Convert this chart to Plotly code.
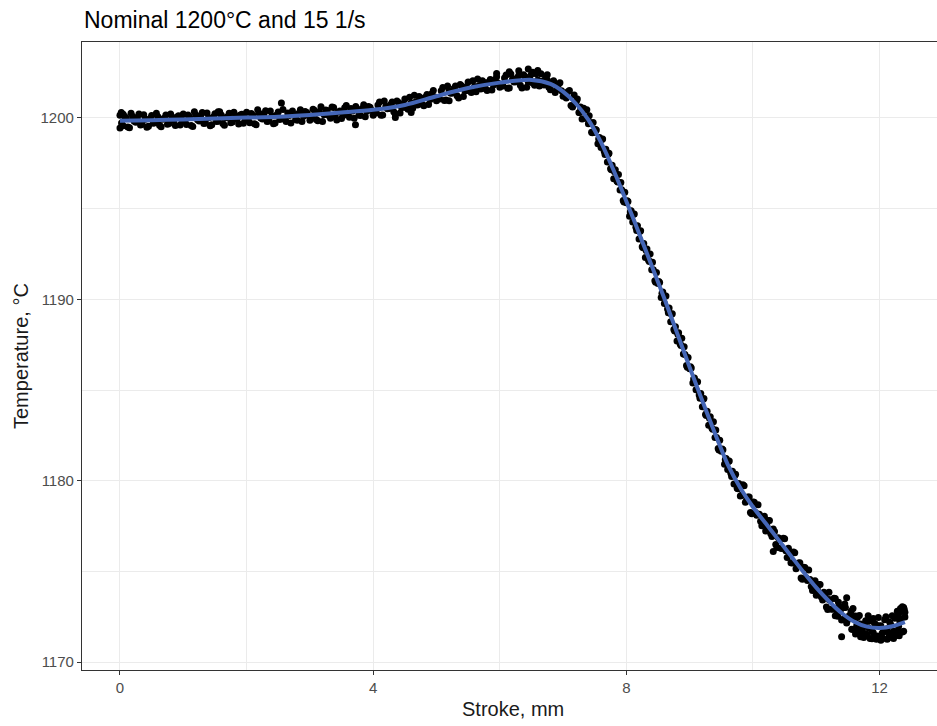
import plotly.graph_objects as go

# ---- data ----
# first sweep of readings
stroke_run1 = [
    0.00, 0.05, 0.10, 0.15, 0.20, 0.25, 0.30, 0.35, 0.40, 0.45, 0.50, 0.55, 0.60, 0.65, 0.70, 0.75, 0.80, 0.85, 0.90, 0.95,
    1.00, 1.05, 1.10, 1.15, 1.20, 1.25, 1.30, 1.35, 1.40, 1.45, 1.50, 1.55, 1.60, 1.65, 1.70, 1.75, 1.80, 1.85, 1.90, 1.95,
    2.00, 2.05, 2.10, 2.15, 2.20, 2.25, 2.30, 2.35, 2.40, 2.45, 2.50, 2.55, 2.60, 2.65, 2.70, 2.75, 2.80, 2.85, 2.90, 2.95,
    3.00, 3.05, 3.10, 3.15, 3.20, 3.25, 3.30, 3.35, 3.40, 3.45, 3.50, 3.55, 3.60, 3.65, 3.70, 3.75, 3.80, 3.85, 3.90, 3.95,
    4.00, 4.05, 4.10, 4.15, 4.20, 4.25, 4.30, 4.35, 4.40, 4.45, 4.50, 4.55, 4.60, 4.65, 4.70, 4.75, 4.80, 4.85, 4.90, 4.95,
    5.00, 5.05, 5.10, 5.15, 5.20, 5.25, 5.30, 5.35, 5.40, 5.45, 5.50, 5.55, 5.60, 5.65, 5.70, 5.75, 5.80, 5.85, 5.90, 5.95,
    6.00, 6.05, 6.10, 6.15, 6.20, 6.25, 6.30, 6.35, 6.40, 6.45, 6.50, 6.55, 6.60, 6.65, 6.70, 6.75, 6.80, 6.85, 6.90, 6.95,
    7.00, 7.05, 7.10, 7.15, 7.20,
    7.225, 7.250, 7.275, 7.300, 7.325, 7.350, 7.375, 7.400, 7.425, 7.450, 7.475, 7.500, 7.525, 7.550, 7.575, 7.600,
    7.625, 7.650, 7.675, 7.700, 7.725, 7.750, 7.775, 7.800, 7.825, 7.850, 7.875, 7.900, 7.925, 7.950, 7.975, 8.000,
    8.025, 8.050, 8.075, 8.100, 8.125, 8.150, 8.175, 8.200, 8.225, 8.250, 8.275, 8.300, 8.325, 8.350, 8.375, 8.400,
    8.425, 8.450, 8.475, 8.500, 8.525, 8.550, 8.575, 8.600, 8.625, 8.650, 8.675, 8.700, 8.725, 8.750, 8.775, 8.800,
    8.825, 8.850, 8.875, 8.900, 8.925, 8.950, 8.975, 9.000, 9.025, 9.050, 9.075, 9.100, 9.125, 9.150, 9.175, 9.200,
    9.225, 9.250, 9.275, 9.300, 9.325, 9.350, 9.375, 9.400, 9.425, 9.450, 9.475, 9.500, 9.525, 9.550, 9.575, 9.600,
    9.625, 9.650, 9.675, 9.700, 9.725, 9.750, 9.775, 9.800,
    9.84, 9.88, 9.92, 9.96, 10.00, 10.04, 10.08, 10.12, 10.16, 10.20, 10.24, 10.28, 10.32, 10.36, 10.40, 10.44, 10.48,
    10.52, 10.56, 10.60, 10.64, 10.68, 10.72, 10.76, 10.80, 10.84, 10.88, 10.92, 10.96, 11.00, 11.04, 11.08, 11.12,
    11.16, 11.20, 11.24, 11.28, 11.32, 11.36, 11.40, 11.44, 11.48, 11.52, 11.56, 11.60, 11.64, 11.68, 11.72, 11.76,
    11.80, 11.84, 11.88, 11.92, 11.96, 12.00, 12.04, 12.08, 12.12, 12.16, 12.20, 12.24, 12.28, 12.32, 12.36, 12.40,
]
temp_run1 = [
    1200.15, 1199.57, 1199.98, 1199.46, 1200.08, 1199.77, 1200.22, 1199.65, 1199.93, 1199.55,
    1200.14, 1199.74, 1200.07, 1199.51, 1199.98, 1199.65, 1200.22, 1199.86, 1200.06, 1199.61,
    1200.22, 1199.64, 1200.05, 1199.53, 1200.16, 1199.84, 1200.30, 1199.73, 1200.01, 1199.63,
    1200.23, 1199.82, 1200.16, 1199.60, 1200.07, 1199.74, 1200.32, 1199.95, 1200.16, 1199.71,
    1200.32, 1199.74, 1200.15, 1199.63, 1200.26, 1199.94, 1200.40, 1199.83, 1200.11, 1199.73,
    1200.33, 1200.83, 1199.93, 1200.27, 1199.72, 1200.19, 1199.87, 1200.45, 1200.09, 1200.30,
    1199.87, 1200.48, 1199.91, 1200.32, 1199.81, 1200.44, 1200.14, 1200.60, 1200.05, 1200.33,
    1199.97, 1200.57, 1200.18, 1200.52, 1199.98, 1200.45, 1200.14, 1200.73, 1200.37, 1200.59,
    1200.15, 1200.27, 1200.88, 1200.17, 1200.65, 1200.52, 1200.88, 1200.20, 1200.85, 1200.56,
    1201.05, 1200.48, 1200.82, 1201.25, 1200.72, 1201.10, 1200.68, 1201.30, 1201.02, 1201.51,
    1200.95, 1201.05, 1201.68, 1200.99, 1201.49, 1201.38, 1201.76, 1201.10, 1201.77, 1201.49,
    1201.98, 1201.40, 1201.74, 1202.15, 1201.60, 1201.96, 1201.52, 1202.12, 1201.82, 1202.28,
    1201.70, 1201.77, 1202.37, 1201.66, 1202.13, 1202.00, 1202.34, 1201.66, 1202.29, 1201.98,
    1202.43, 1201.81, 1202.09, 1202.44, 1201.82, 1202.10, 1201.56, 1202.05, 1201.62, 1201.94,
    1201.20, 1201.10, 1201.52, 1200.61, 1200.88,
    1201.05, 1200.30, 1200.60, 1199.95, 1200.53, 1200.00, 1200.45, 1199.68, 1199.75, 1199.22, 1199.75, 1199.22,
    1199.34, 1198.58, 1198.93, 1198.37, 1198.84, 1198.16, 1198.27, 1197.57, 1198.05, 1197.20, 1197.40, 1196.65,
    1197.14, 1196.53, 1196.88, 1196.03, 1196.04, 1195.45, 1195.91, 1195.32, 1195.39, 1194.58, 1194.88, 1194.27,
    1194.71, 1193.98, 1194.06, 1193.32, 1193.78, 1192.90, 1193.08, 1192.30, 1192.78, 1192.15, 1192.50, 1191.63,
    1191.63, 1191.02, 1191.48, 1190.87, 1190.93, 1190.10, 1190.40, 1189.77, 1190.19, 1189.46, 1189.52, 1188.77,
    1189.21, 1188.33, 1188.49, 1187.70, 1188.16, 1187.53, 1187.86, 1186.98, 1186.96, 1186.35, 1186.79, 1186.17,
    1186.21, 1185.38, 1185.66, 1185.02, 1185.46, 1184.73, 1184.81, 1184.07, 1184.53, 1183.65, 1183.83, 1183.05,
    1183.53, 1182.90, 1183.25, 1182.38, 1182.38, 1181.77, 1182.23, 1181.62, 1181.70, 1180.90, 1181.22, 1180.62,
    1181.09, 1180.41, 1180.52, 1179.82, 1180.36, 1179.58, 1179.84, 1179.15,
    1179.78, 1178.81, 1179.10, 1178.25, 1178.83, 1178.25, 1178.67, 1177.76, 1177.88, 1177.23, 1177.80, 1177.09,
    1177.33, 1176.48, 1176.85, 1176.27, 1176.83, 1176.13, 1176.28, 1175.47, 1176.07, 1175.14, 1175.46, 1174.63,
    1175.23, 1174.65, 1175.07, 1174.17, 1174.31, 1173.68, 1174.27, 1173.58, 1173.85, 1173.04, 1173.45, 1172.91,
    1173.51, 1172.86, 1173.07, 1172.32, 1173.00, 1172.15, 1172.55, 1171.81, 1172.50, 1172.03, 1172.56, 1171.78,
    1172.04, 1171.53, 1172.26, 1171.71, 1172.12, 1171.44, 1171.98, 1171.59, 1172.33, 1171.83, 1172.19, 1171.59,
    1172.41, 1171.70, 1172.25, 1171.65, 1172.48,
]

# second sweep of readings (between the first ones)
stroke_run2 = [
    0.025, 0.075, 0.125, 0.175, 0.225, 0.275, 0.325, 0.375, 0.425, 0.475, 0.525, 0.575, 0.625, 0.675, 0.725, 0.775,
    0.825, 0.875, 0.925, 0.975, 1.025, 1.075, 1.125, 1.175, 1.225, 1.275, 1.325, 1.375, 1.425, 1.475, 1.525, 1.575,
    1.625, 1.675, 1.725, 1.775, 1.825, 1.875, 1.925, 1.975, 2.025, 2.075, 2.125, 2.175, 2.225, 2.275, 2.325, 2.375,
    2.425, 2.475, 2.525, 2.575, 2.625, 2.675, 2.725, 2.775, 2.825, 2.875, 2.925, 2.975, 3.025, 3.075, 3.125, 3.175,
    3.225, 3.275, 3.325, 3.375, 3.425, 3.475, 3.525, 3.575, 3.625, 3.675, 3.725, 3.775, 3.825, 3.875, 3.925, 3.975,
    4.025, 4.075, 4.125, 4.175, 4.225, 4.275, 4.325, 4.375, 4.425, 4.475, 4.525, 4.575, 4.625, 4.675, 4.725, 4.775,
    4.825, 4.875, 4.925, 4.975, 5.025, 5.075, 5.125, 5.175, 5.225, 5.275, 5.325, 5.375, 5.425, 5.475, 5.525, 5.575,
    5.625, 5.675, 5.725, 5.775, 5.825, 5.875, 5.925, 5.975, 6.025, 6.075, 6.125, 6.175, 6.225, 6.275, 6.325, 6.375,
    6.425, 6.475, 6.525, 6.575, 6.625, 6.675, 6.725, 6.775, 6.825, 6.875, 6.925, 6.975, 7.025, 7.075, 7.125, 7.175,
    7.2125, 7.2625, 7.3125, 7.3625, 7.4125, 7.4625, 7.5125, 7.5625, 7.6125, 7.6625, 7.7125, 7.7625, 7.8125,
    7.8625, 7.9125, 7.9625, 8.0125, 8.0625, 8.1125, 8.1625, 8.2125, 8.2625, 8.3125, 8.3625, 8.4125, 8.4625,
    8.5125, 8.5625, 8.6125, 8.6625, 8.7125, 8.7625, 8.8125, 8.8625, 8.9125, 8.9625, 9.0125, 9.0625, 9.1125,
    9.1625, 9.2125, 9.2625, 9.3125, 9.3625, 9.4125, 9.4625, 9.5125, 9.5625, 9.6125, 9.6625, 9.7125, 9.7625,
    9.82, 9.86, 9.90, 9.94, 9.98, 10.02, 10.06, 10.10, 10.14, 10.18, 10.22, 10.26, 10.30, 10.34, 10.38, 10.42,
    10.46, 10.50, 10.54, 10.58, 10.62, 10.66, 10.70, 10.74, 10.78, 10.82, 10.86, 10.90, 10.94, 10.98, 11.02, 11.06,
    11.10, 11.14, 11.18, 11.22, 11.26, 11.30, 11.34, 11.38, 11.42, 11.46, 11.50, 11.54, 11.58, 11.62, 11.66, 11.70,
    11.74, 11.78, 11.82, 11.86, 11.90, 11.94, 11.98, 12.02, 12.06, 12.10, 12.14, 12.18, 12.22, 12.26, 12.30, 12.34,
    12.38,
]
temp_run2 = [
    1199.73, 1200.08, 1199.50, 1200.26, 1199.82, 1200.03, 1199.61, 1200.18, 1199.49, 1199.97, 1199.71, 1200.26,
    1199.60, 1199.93, 1200.17, 1199.70, 1200.04, 1199.58, 1200.13, 1199.91, 1199.82, 1200.16, 1199.59, 1200.35,
    1199.90, 1200.12, 1199.69, 1200.27, 1199.57, 1200.06, 1199.80, 1200.34, 1199.69, 1200.01, 1200.26, 1199.78,
    1200.13, 1199.67, 1200.21, 1200.00, 1199.90, 1200.25, 1199.68, 1200.45, 1200.00, 1200.22, 1199.80, 1200.38,
    1199.68, 1200.17, 1199.92, 1200.47, 1199.81, 1200.14, 1200.39, 1199.92, 1200.26, 1199.81, 1200.36, 1200.15,
    1200.06, 1200.41, 1199.85, 1200.62, 1200.18, 1200.41, 1199.99, 1200.58, 1199.89, 1200.38, 1200.14, 1200.69,
    1200.04, 1200.38, 1200.63, 1200.17, 1200.52, 1200.07, 1200.63, 1200.42,
    1200.34, 1200.71, 1200.15, 1200.94, 1200.51, 1200.75, 1200.34, 1200.94, 1200.27, 1200.78, 1200.56, 1201.14,
    1200.53, 1200.90, 1201.19, 1200.76, 1201.15, 1200.74, 1201.33, 1201.16, 1201.11, 1201.50, 1200.96, 1201.77,
    1201.36, 1201.62, 1201.23, 1201.85, 1201.19, 1201.71, 1201.49, 1202.06, 1201.44, 1201.79, 1202.06, 1201.61,
    1201.98, 1201.55, 1202.11, 1201.92, 1201.84, 1202.20, 1201.64, 1202.42, 1201.99, 1202.22, 1201.80, 1202.39,
    1201.70, 1202.18, 1201.92, 1202.44, 1201.76, 1202.04, 1202.24, 1201.70, 1201.96, 1201.41, 1201.84, 1201.50,
    1201.26, 1201.44, 1200.69, 1201.27,
    1200.95, 1200.30, 1200.39, 1199.99, 1200.13, 1199.18, 1199.37, 1198.84, 1198.81, 1197.98, 1198.00, 1197.15,
    1197.04, 1196.47, 1196.44, 1195.37, 1195.44, 1194.82, 1194.69, 1193.79, 1193.74, 1192.84, 1192.69, 1192.09,
    1192.04, 1190.94, 1190.99, 1190.34, 1190.18, 1189.26, 1189.18, 1188.26, 1188.08, 1187.46, 1187.38, 1186.26,
    1186.28, 1185.61, 1185.44, 1184.54, 1184.49, 1183.59, 1183.44, 1182.84, 1182.79, 1181.69, 1181.75, 1181.15,
    1181.06, 1180.23, 1180.28, 1179.56,
    1179.19, 1179.72, 1178.95, 1179.10, 1178.17, 1178.81, 1178.10, 1178.15, 1177.52, 1178.04, 1177.51, 1177.80,
    1176.92, 1177.20, 1176.32, 1176.78, 1176.26, 1176.80, 1175.77, 1176.02, 1175.46, 1176.03, 1175.30, 1175.47,
    1174.56, 1175.21, 1174.50, 1174.55, 1173.94, 1174.48, 1173.97, 1174.28, 1173.42, 1173.74, 1172.90, 1173.40,
    1172.92, 1173.50, 1172.53, 1172.84, 1172.35, 1173.00, 1172.35, 1172.61, 1171.79, 1172.54, 1171.94, 1172.10,
    1171.61, 1172.27, 1171.89, 1172.34, 1171.62, 1172.07, 1171.36, 1172.00, 1171.67, 1172.40, 1171.58, 1172.04,
    1171.69, 1172.48, 1171.97, 1172.37, 1171.69,
]

# isolated readings (outliers, peak and trough clusters)
stroke_extra = [
    0.00, 0.02, 0.05, 1.55, 3.72, 4.35, 4.60, 5.20,
    5.95, 6.15, 6.30, 6.45, 6.52, 6.60, 6.75,
    10.32, 11.20, 11.30, 11.35, 11.40, 11.45, 11.48, 11.55, 11.58, 11.62, 11.65, 11.68, 11.70, 11.75, 11.82,
    11.85, 11.88, 11.90, 11.95, 11.98, 12.02, 12.05, 12.10, 12.12, 12.15, 12.20, 12.22, 12.25, 12.28, 12.30,
    12.31, 12.33, 12.35, 12.36, 12.38, 12.39, 12.40,
]
temp_extra = [
    1199.45, 1200.30, 1200.20, 1200.35, 1199.62, 1200.02, 1200.30, 1200.95,
    1202.45, 1202.55, 1202.60, 1202.70, 1202.52, 1202.62, 1202.38,
    1176.10, 1173.85, 1172.55, 1173.30, 1171.40, 1173.20, 1173.55, 1172.80, 1172.95, 1171.55, 1172.45, 1171.70,
    1171.40, 1171.35, 1172.55, 1171.30, 1171.28, 1172.40, 1171.25, 1172.45, 1171.20, 1171.30, 1172.50, 1171.25,
    1171.35, 1172.55, 1171.30, 1171.45, 1172.80, 1172.65, 1171.45, 1172.95, 1172.85, 1173.05, 1173.00, 1172.90,
    1172.75,
]

# loess-type smooth line
smooth_x = [0.0, 0.5, 1.0, 1.5, 2.0, 2.5, 3.0, 3.5, 4.0, 4.5, 5.0, 5.5, 6.0, 6.5, 6.8, 7.0, 7.2, 7.4, 7.6, 7.8,
            8.0, 8.2, 8.4, 8.6, 8.8, 9.0, 9.2, 9.4, 9.6, 9.8, 10.0, 10.2, 10.4, 10.6, 10.8, 11.0, 11.2, 11.4,
            11.6, 11.8, 12.0, 12.2, 12.4]
smooth_y = [1199.85, 1199.88, 1199.92, 1199.97, 1200.02, 1200.07, 1200.17, 1200.30, 1200.45, 1200.72, 1201.20,
            1201.65, 1201.95, 1202.10, 1201.88, 1201.45, 1200.80, 1199.90, 1198.65, 1197.10, 1195.40, 1193.65,
            1191.85, 1190.05, 1188.15, 1186.25, 1184.40, 1182.60, 1180.90, 1179.60, 1178.55, 1177.65, 1176.75,
            1175.85, 1174.95, 1174.10, 1173.35, 1172.70, 1172.22, 1171.95, 1171.88, 1171.97, 1172.20]

x_ticks = [0, 4, 8, 12]
y_ticks = [1170, 1180, 1190, 1200]

title_text = "Nominal 1200°C and 15 1/s"
x_title = "Stroke, mm"
y_title = "Temperature, °C"

# ---- figure ----
W, H = 937, 726
L, R, T, B = 82, 0, 42, 56
plot_w = W - L - R
plot_h = H - T - B

stroke_all = stroke_run1 + stroke_run2 + stroke_extra
temp_all = temp_run1 + temp_run2 + temp_extra

fig = go.Figure()
fig.add_trace(go.Scatter(
    x=stroke_all, y=temp_all, mode="markers",
    marker=dict(color="black", size=7, line=dict(width=0)),
    hoverinfo="skip", showlegend=False,
))
fig.add_trace(go.Scatter(
    x=smooth_x, y=smooth_y, mode="lines",
    line=dict(color="#4466B6", width=4, shape="spline", smoothing=0.8),
    hoverinfo="skip", showlegend=False,
))

font_family = "Liberation Sans, Arial, sans-serif"
tick_font = dict(family=font_family, size=15, color="#4D4D4D")
grid_col = "#EBEBEB"

fig.update_layout(
    width=W, height=H,
    margin=dict(l=L, r=R, t=T, b=B, pad=0),
    paper_bgcolor="white", plot_bgcolor="white",
    showlegend=False,
    xaxis=dict(
        range=[-0.600, 12.907], tickmode="array", tickvals=x_ticks, ticktext=[str(v) for v in x_ticks],
        showgrid=True, gridcolor=grid_col, gridwidth=1.2,
        minor=dict(dtick=2, tick0=0, showgrid=True, gridcolor=grid_col, gridwidth=0.7, ticks=""),
        showline=True, linecolor="#333333", linewidth=1.2, mirror=True,
        ticks="outside", ticklen=4, tickcolor="#333333", tickwidth=1.2,
        tickfont=tick_font, zeroline=False,
    ),
    yaxis=dict(
        range=[1169.56, 1204.19], tickmode="array", tickvals=y_ticks, ticktext=[str(v) for v in y_ticks],
        showgrid=True, gridcolor=grid_col, gridwidth=1.2,
        minor=dict(dtick=5, tick0=1170, showgrid=True, gridcolor=grid_col, gridwidth=0.7, ticks=""),
        showline=True, linecolor="#333333", linewidth=1.2, mirror=False,
        ticks="outside", ticklen=4, tickcolor="#333333", tickwidth=1.2,
        tickfont=tick_font, zeroline=False,
    ),
    annotations=[
        dict(text=title_text, xref="paper", yref="paper", x=0, y=1 + (T - 20) / plot_h,
             xanchor="left", yanchor="middle", showarrow=False,
             font=dict(family=font_family, size=23, color="black")),
        dict(text=x_title, xref="paper", yref="paper", x=(513 - L) / plot_w, y=-(709 - (T + plot_h)) / plot_h,
             xanchor="center", yanchor="middle", showarrow=False,
             font=dict(family=font_family, size=20, color="#1A1A1A")),
        dict(text=y_title, xref="paper", yref="paper", x=(21 - L) / plot_w, y=0.5, textangle=-90,
             xanchor="center", yanchor="middle", showarrow=False,
             font=dict(family=font_family, size=20, color="#1A1A1A")),
    ],
)

fig.write_html("out.html")
